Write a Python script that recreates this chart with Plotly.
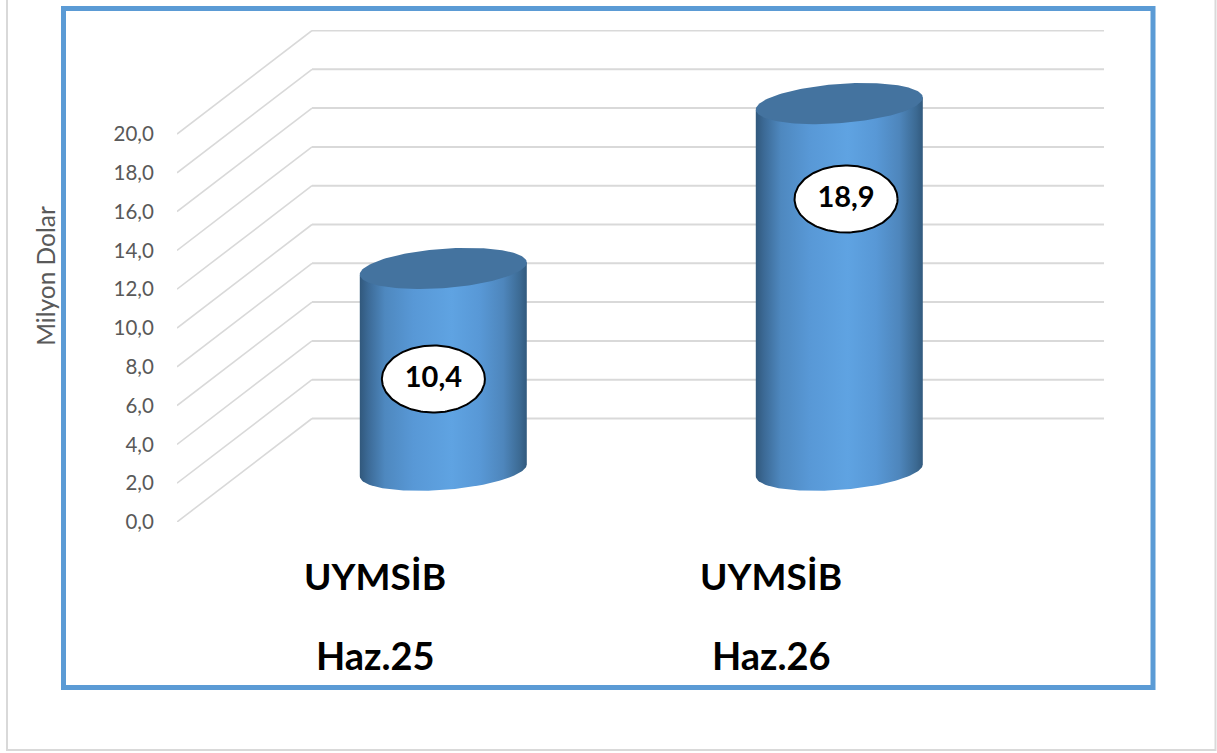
import numpy as np
import plotly.graph_objects as go

# --- data ---
groups = ["UYMSİB", "UYMSİB"]
periods = ["Haz.25", "Haz.26"]
values = [10.4, 18.9]
value_labels = ["10,4", "18,9"]
y_ticks = [0, 2, 4, 6, 8, 10, 12, 14, 16, 18, 20]
axis_title = "Milyon Dolar"

# --- layout geometry (pixels of the 1217x753 page) ---
W, H = 1217, 753
L, R, T, B = 177, 1104, 30, 522
PX_PER_X = 396.0
PX_PER_Y = 19.4
XMIN = -0.5
XMAX = XMIN + (R - L) / PX_PER_X
YMAX = (B - T) / PX_PER_Y
DEPTH_X = 135 / PX_PER_X     # oblique wall offset, in x units
DEPTH_Y = 103.5 / PX_PER_Y   # oblique wall offset, in y units
RX = 83.5 / PX_PER_X         # cylinder half width
RY = 19.7 / PX_PER_Y         # ellipse half height
SKEW = 6.0 / PX_PER_Y        # ellipse tilt
LABEL_RX = 51.5 / PX_PER_X
LABEL_RY = 33.5 / PX_PER_Y
LABEL_POS = [(0.1475, 7.37), (1.1895, 16.65)]  # hand-placed callouts, as in the source

GRID = "#D9D9D9"
FRAME = "#5B9BD5"
TEXT = "#595959"
FONT = "Lato"
BODY_SCALE = [
    [0.00, "#31587C"], [0.05, "#3C6A96"], [0.15, "#4E88BF"], [0.32, "#5898D6"],
    [0.55, "#5FA3E2"], [0.72, "#5898D6"], [0.86, "#4E86BC"], [0.96, "#3C6A93"],
    [1.00, "#325A7E"],
]
TOP_COLOR = "#44739F"


def px(x):
    return (x - L) / (R - L)


def py(y):
    return (B - y) / (B - T)


fig = go.Figure()

# walls: oblique side-wall lines + back wall gridlines
for v in y_ticks:
    fig.add_trace(go.Scatter(
        x=[XMIN, XMIN + DEPTH_X], y=[v, v + DEPTH_Y],
        mode="lines", line=dict(color=GRID, width=1.6), hoverinfo="skip", showlegend=False,
    ))
    fig.add_trace(go.Scatter(
        x=[XMIN + DEPTH_X, XMAX], y=[v + DEPTH_Y, v + DEPTH_Y],
        mode="lines", line=dict(color=GRID, width=2), hoverinfo="skip", showlegend=False,
    ))

t_front = np.linspace(0, np.pi, 80)
t_full = np.linspace(0, 2 * np.pi, 160)

for i, v in enumerate(values):
    cx = i + DEPTH_X / 2 + 0.002
    y0 = DEPTH_Y / 2
    y1 = y0 + v
    # body: front half of base ellipse joined to the top ellipse's edges
    bx = cx + RX * np.cos(t_front)
    by = y0 - RY * np.sin(t_front) + SKEW * np.cos(t_front)
    body_x = np.concatenate([[cx - RX, cx + RX], bx])
    body_y = np.concatenate([[y1 - SKEW, y1 + SKEW], by])
    fig.add_trace(go.Scatter(
        x=body_x, y=body_y, mode="lines", fill="toself", line=dict(width=0),
        fillgradient=dict(type="horizontal", colorscale=BODY_SCALE),
        hoverinfo="skip", showlegend=False,
    ))
    # top cap
    fig.add_trace(go.Scatter(
        x=cx + RX * np.cos(t_full),
        y=y1 + RY * np.sin(t_full) + SKEW * np.cos(t_full),
        mode="lines", fill="toself", fillcolor=TOP_COLOR, line=dict(width=0),
        hoverinfo="skip", showlegend=False,
    ))

# value callouts
for (lx, ly), text in zip(LABEL_POS, value_labels):
    fig.add_trace(go.Scatter(
        x=lx + LABEL_RX * np.cos(t_full), y=ly + LABEL_RY * np.sin(t_full),
        mode="lines", fill="toself", fillcolor="white",
        line=dict(color="black", width=2), hoverinfo="skip", showlegend=False,
    ))
    fig.add_trace(go.Scatter(
        x=[lx], y=[ly - 0.05], mode="text", text=[text], textposition="middle center",
        textfont=dict(family=FONT, size=29, color="black", weight="bold"),
        hoverinfo="skip", showlegend=False,
    ))

shapes = [
    dict(type="rect", xref="paper", yref="paper", x0=px(7), x1=px(1215.5), y0=py(750), y1=py(-10),
         line=dict(color=GRID, width=2), layer="below"),
    dict(type="rect", xref="paper", yref="paper", x0=px(63.5), x1=px(1153), y0=py(687.5), y1=py(8.5),
         line=dict(color=FRAME, width=5), layer="below"),
]

annotations = [
    dict(x=i, y=py(655), xref="x", yref="paper", text=f"<b>{p}</b>", showarrow=False,
         xanchor="center", yanchor="middle", font=dict(family=FONT, size=38, color="black"))
    for i, p in enumerate(periods)
]

fig.update_layout(
    width=W, height=H,
    margin=dict(l=L, r=W - R, t=T, b=H - B, autoexpand=False),
    paper_bgcolor="white", plot_bgcolor="rgba(0,0,0,0)",
    showlegend=False, separators=",.",
    shapes=shapes, annotations=annotations,
    xaxis=dict(
        range=[XMIN, XMAX], tickmode="array", tickvals=[0, 1],
        ticktext=[f"<b>{g}</b>" for g in groups],
        ticks="outside", ticklen=23, tickcolor="rgba(0,0,0,0)",
        tickfont=dict(family=FONT, size=37, color="black"),
        showgrid=False, zeroline=False, showline=False,
    ),
    yaxis=dict(
        range=[0, YMAX], tickmode="array", tickvals=y_ticks, tickformat=".1f",
        ticks="outside", ticklen=18, tickcolor="rgba(0,0,0,0)",
        tickfont=dict(family=FONT, size=20.5, color=TEXT),
        showgrid=False, zeroline=False, showline=False,
        title=dict(text=axis_title, standoff=50, font=dict(family=FONT, size=24.5, color=TEXT)),
    ),
)

fig.write_html("out.html", config=dict(displayModeBar=False),
               post_script="document.body.style.margin='0';")
